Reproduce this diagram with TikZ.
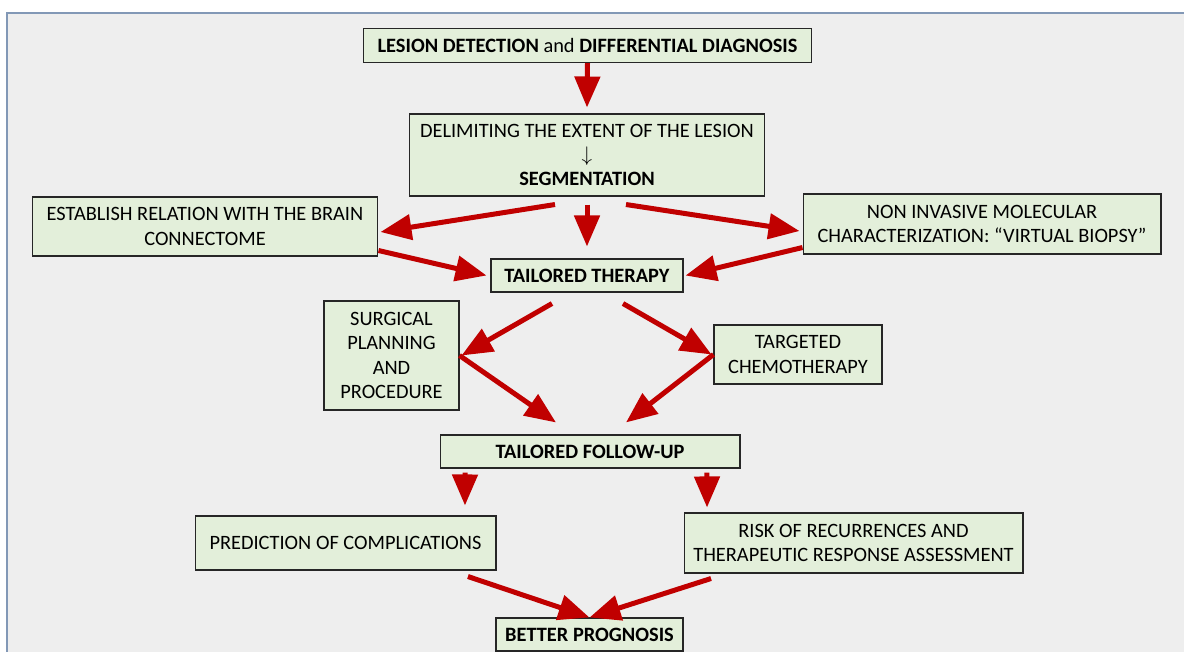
\documentclass[tikz,border=0pt]{standalone}
\usepackage{fontspec}
\setmainfont{Carlito}
\usepackage{xcolor}
\usepackage{tikz}
\usetikzlibrary{arrows.meta}
\definecolor{panelgray}{RGB}{238,238,238}
\definecolor{panelframe}{RGB}{130,152,182}
\definecolor{boxgreen}{RGB}{227,239,218}
\definecolor{flowred}{RGB}{192,0,0}

\begin{document}
\begin{tikzpicture}[x=0.02cm, y=-0.02cm,
	box/.style={shape=rectangle, draw=black!85, line width=0.6pt, fill=boxgreen, inner sep=0, align=center, font=\fontsize{11.6}{13.8}\selectfont},
	flow/.style={draw=flowred, line width=0.1cm, -{Triangle[length=0.62cm, width=0.5cm]}}]
	\useasboundingbox (0, 0) rectangle (1184, 652);
	% Panel:
	\draw[draw=panelframe, fill=panelgray, line width=1.2pt] (7, 13) rectangle (1200, 670);
	% Boxes:
	\node[box, minimum width=8.98cm, minimum height=0.68cm](Rect1) at (587.5, 45.5){\textbf{LESION DETECTION} and \textbf{DIFFERENTIAL DIAGNOSIS}};
	\node[box, minimum width=7.12cm, minimum height=1.64cm](Rect2) at (587, 155){DELIMITING THE EXTENT OF THE LESION\\$\downarrow$\\\textbf{SEGMENTATION}};
	\node[box, minimum width=6.92cm, minimum height=1.18cm](Rect3) at (205, 226.5){ESTABLISH RELATION WITH THE BRAIN\\CONNECTOME};
	\node[box, minimum width=7.16cm, minimum height=1.2cm](Rect4) at (982, 224){NON INVASIVE MOLECULAR\\CHARACTERIZATION: ``VIRTUAL BIOPSY''};
	\node[box, minimum width=3.84cm, minimum height=0.66cm](Rect5) at (587, 275.5){\textbf{TAILORED THERAPY}};
	\node[box, minimum width=2.7cm, minimum height=2.18cm](Rect6) at (391.5, 355.5){SURGICAL\\PLANNING\\AND\\PROCEDURE};
	\node[box, minimum width=3.36cm, minimum height=1.18cm](Rect7) at (798, 354.5){TARGETED\\CHEMOTHERAPY};
	\node[box, minimum width=6cm, minimum height=0.66cm](Rect8) at (590, 451.5){\textbf{TAILORED FOLLOW-UP}};
	\node[box, minimum width=6.02cm, minimum height=1.08cm](Rect9) at (345.5, 543){PREDICTION OF COMPLICATIONS};
	\node[box, minimum width=6.78cm, minimum height=1.2cm](Rect10) at (853.5, 543){RISK OF RECURRENCES AND\\THERAPEUTIC RESPONSE ASSESSMENT};
	\node[box, minimum width=3.74cm, minimum height=0.66cm](Rect11) at (589.5, 634.5){\textbf{BETTER PROGNOSIS}};
	% Arrows:
	\draw[flow] (Rect1.south) -- ([yshift=0.12cm]Rect2.north);
	\draw[flow] ([xshift=-0.64cm, yshift=-0.16cm]Rect2.south) -- ([xshift=0.04cm, yshift=-0.11cm]Rect3.east);
	\draw[flow] ([yshift=-0.16cm]Rect2.south) -- ([yshift=0.24cm]Rect5.north);
	\draw[flow] ([xshift=0.78cm, yshift=-0.16cm]Rect2.south) -- ([xshift=-0.06cm, yshift=-0.14cm]Rect4.west);
	\draw[flow] ([yshift=0.12cm]Rect3.south east) -- ([xshift=-0.08cm]Rect5.west);
	\draw[flow] ([yshift=0.14cm]Rect4.south west) -- ([xshift=0.04cm]Rect5.east);
	\draw[flow] ([xshift=-0.7cm, yshift=-0.22cm]Rect5.south) -- ([xshift=0.04cm]Rect6.east);
	\draw[flow] ([xshift=0.72cm, yshift=-0.22cm]Rect5.south) -- ([xshift=-0.04cm]Rect7.west);
	\draw[flow] (Rect6.east) -- ([xshift=-0.68cm, yshift=0.24cm]Rect8.north);
	\draw[flow] (Rect7.west) -- ([xshift=0.72cm, yshift=0.24cm]Rect8.north);
	\draw[flow] ([xshift=-2.5cm, yshift=-0.08cm]Rect8.south) -- ([xshift=2.39cm, yshift=0.2cm]Rect9.north);
	\draw[flow] ([xshift=2.34cm, yshift=-0.08cm]Rect8.south) -- ([xshift=-2.93cm, yshift=0.1cm]Rect10.north);
	\draw[flow] ([xshift=2.45cm, yshift=-0.12cm]Rect9.south) -- (Rect11.north);
	\draw[flow] ([xshift=-2.85cm, yshift=-0.1cm]Rect10.south) -- (Rect11.north);
\end{tikzpicture}
\end{document}
